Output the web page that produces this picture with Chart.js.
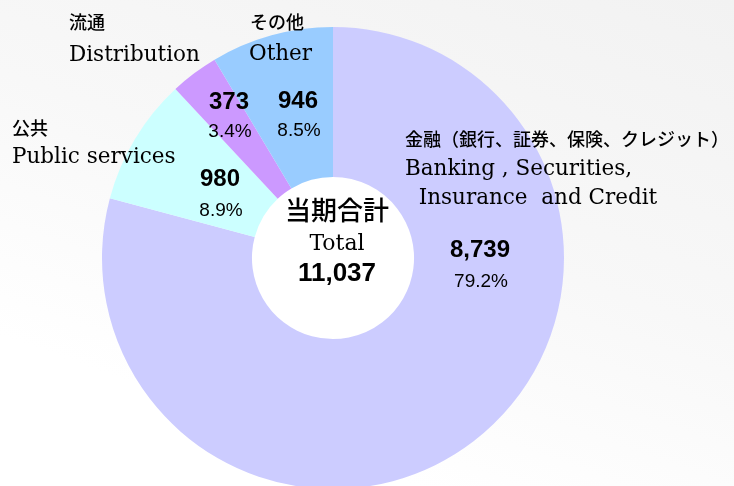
<!DOCTYPE html>
<html>
<head>
<meta charset="utf-8">
<script src="https://cdn.jsdelivr.net/npm/chart.js@4.4.1/dist/chart.umd.min.js"></script>
<style>
  html, body { margin: 0; padding: 0; width: 734px; height: 486px; overflow: hidden; }
  body { background: linear-gradient(200deg, #f2f2f2 0%, #f8f8f8 45%, #ffffff 80%); }
  #c { display: block; }
</style>
</head>
<body>
<canvas id="c" width="734" height="486"></canvas>
<script>
// ---- data ----
const categoriesJa = ['金融（銀行、証券、保険、クレジット）', '公共', '流通', 'その他'];
const categoriesEn = [['Banking , Securities,', '  Insurance  and Credit'], ['Public services'], ['Distribution'], ['Other']];
const values = [8739, 980, 373, 946];
const pctLabels = ['79.2%', '8.9%', '3.4%', '8.5%'];
const totalTitleJa = '当期合計';
const totalTitleEn = 'Total';
const totalValue = 11037;
const colors = ['#ccccff', '#ccffff', '#cc99ff', '#99ccff'];

// ---- layout / style (not data) ----
const CJK = '"Noto Sans CJK JP", "Noto Sans CJK SC", sans-serif';
const SERIF = '"DejaVu Serif", "Liberation Serif", serif';
const SANS = '"Liberation Sans", Arial, sans-serif';
const catLabelPos = [
  {x: 405, yJa: 139, yEn: [175, 204], enX: [405, 405]},
  {x: 12,  yJa: 128, yEn: [163], enX: [12]},
  {x: 69,  yJa: 22,  yEn: [61], enX: [69]},
  {x: 250, yJa: 22,  yEn: [60], enX: [249]}
];
const valueLabelPos = [
  {x: 480, y: 250, py: 282},
  {x: 220, y: 179, py: 211},
  {x: 229, y: 102, py: 132},
  {x: 298, y: 101, py: 131}
];
const fmt = n => n.toLocaleString('en-US');

const textPlugin = {
  id: 'texts',
  beforeDatasetsDraw(chart) {
    const ctx = chart.ctx;
    const arc = chart.getDatasetMeta(0).data[0];
    ctx.save();
    ctx.fillStyle = '#ffffff';
    ctx.beginPath();
    ctx.arc(arc.x, arc.y, arc.innerRadius + 1, 0, Math.PI * 2);
    ctx.fill();
    ctx.restore();
  },
  afterDatasetsDraw(chart) {
    const ctx = chart.ctx;
    const arc = chart.getDatasetMeta(0).data[0];
    const cx = arc.x + 4, cy = arc.y;
    ctx.save();
    ctx.fillStyle = '#000';
    // category labels
    categoriesJa.forEach((ja, i) => {
      const p = catLabelPos[i];
      ctx.textAlign = 'left';
      ctx.textBaseline = 'middle';
      ctx.font = '500 18px ' + CJK;
      ctx.fillText(ja, p.x, p.yJa);
      ctx.textBaseline = 'alphabetic';
      ctx.font = '21.5px ' + SERIF;
      categoriesEn[i].forEach((line, k) => {
        ctx.wordSpacing = (line.indexOf('Insurance') >= 0) ? '2px' : '0px';
        ctx.fillText(line, p.enX[k], p.yEn[k]);
      });
      ctx.wordSpacing = '0px';
    });
    // values and percentages
    values.forEach((v, i) => {
      const p = valueLabelPos[i];
      ctx.textAlign = 'center';
      ctx.textBaseline = 'middle';
      ctx.font = 'bold 24px ' + SANS;
      ctx.fillText(fmt(v), p.x, p.y);
      ctx.font = '19px ' + SANS;
      ctx.fillText(pctLabels[i], p.x + 1, p.py);
    });
    // center
    ctx.textAlign = 'center';
    ctx.textBaseline = 'middle';
    ctx.font = '500 26px ' + CJK;
    ctx.fillText(totalTitleJa, cx, cy - 48);
    ctx.textBaseline = 'alphabetic';
    ctx.font = '22px ' + SERIF;
    ctx.fillText(totalTitleEn, cx, cy - 8);
    ctx.textBaseline = 'middle';
    ctx.font = 'bold 26px ' + SANS;
    ctx.fillText(fmt(totalValue), cx, cy + 16);
    ctx.restore();
  }
};

new Chart(document.getElementById('c'), {
  type: 'doughnut',
  data: {
    labels: categoriesJa,
    datasets: [{
      data: values,
      backgroundColor: colors,
      borderWidth: 0,
      hoverOffset: 0,
      clip: false
    }]
  },
  options: {
    responsive: false,
    animation: false,
    devicePixelRatio: 1,
    radius: 231,
    cutout: 80,
    layout: { padding: { top: 30, bottom: 0, left: 102, right: 170 } },
    plugins: {
      legend: { display: false },
      tooltip: { enabled: false }
    }
  },
  plugins: [textPlugin]
});
</script>
</body>
</html>
